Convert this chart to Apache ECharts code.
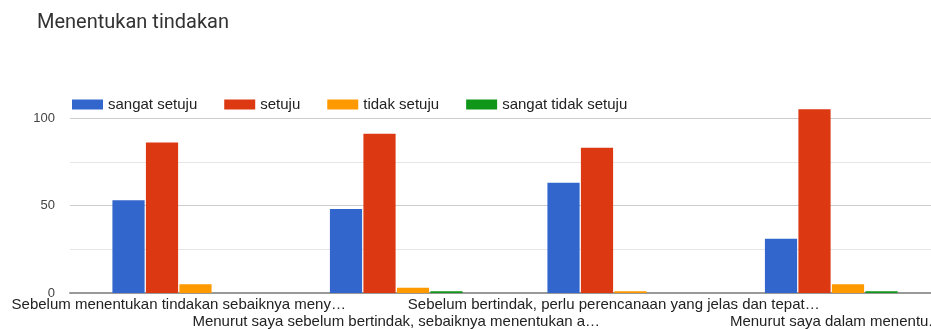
<!DOCTYPE html>
<html>
<head>
<meta charset="utf-8">
<script src="https://cdn.jsdelivr.net/npm/echarts@6/dist/echarts.min.js"></script>
<style>
  html, body { margin: 0; padding: 0; background: #fff; }
  #chart { width: 931px; height: 329px; }
</style>
</head>
<body>
<div id="chart"></div>
<script>
// Survey statements (as shown, truncated)
const categories = [
  'Sebelum menentukan tindakan sebaiknya meny…',
  'Menurut saya sebelum bertindak, sebaiknya menentukan a…',
  'Sebelum bertindak, perlu perencanaan yang jelas dan tepat…',
  'Menurut saya dalam menentu.'
];

// Response counts per answer option
const sangatSetuju = [53, 48, 63, 31];
const setuju = [86, 91, 83, 105];
const tidakSetuju = [5, 3, 1, 5];
const sangatTidakSetuju = [0, 1, 0, 1];

const seriesNames = ['sangat setuju', 'setuju', 'tidak setuju', 'sangat tidak setuju'];
const seriesValues = [sangatSetuju, setuju, tidakSetuju, sangatTidakSetuju];
const colors = ['#3366cc', '#dc3912', '#ff9900', '#109618'];

const yTicks = [0, 50, 100];

const chart = echarts.init(document.getElementById('chart'), null, { renderer: 'canvas' });

chart.setOption({
  animation: false,
  color: colors,
  title: {
    text: 'Menentukan tindakan',
    left: 32,
    top: 8,
    textStyle: { fontFamily: 'Roboto', fontSize: 20, fontWeight: 'normal', color: '#333' }
  },
  legend: {
    left: 67,
    top: 92,
    icon: 'rect',
    itemWidth: 31,
    itemHeight: 10,
    itemGap: 27,
    textStyle: { fontFamily: 'Liberation Sans', fontSize: 15, color: '#222' },
    data: seriesNames
  },
  grid: {
    left: 70,
    right: -9,
    top: 118,
    bottom: 36,
    containLabel: false,
    outerBoundsMode: 'none'
  },
  xAxis: {
    type: 'category',
    data: categories,
    axisTick: { show: false },
    axisLine: { lineStyle: { color: '#999', width: 2 } },
    axisLabel: {
      interval: 0,
      margin: 3,
      fontFamily: 'Liberation Sans',
      fontSize: 15,
      lineHeight: 17,
      color: '#222',
      formatter: (v, i) => (i % 2 === 1 ? '\n' + v : v)
    }
  },
  yAxis: {
    type: 'value',
    min: 0,
    max: 100,
    interval: 25,
    axisLine: { show: false },
    axisTick: { show: false },
    axisLabel: {
      margin: 15,
      fontFamily: 'Liberation Sans',
      fontSize: 13,
      color: '#444',
      formatter: v => (yTicks.includes(v) ? String(v) : '')
    },
    splitLine: { lineStyle: { color: ['#cccccc', '#e6e6e6'] } }
  },
  series: seriesValues.map((vals, i) => ({
    name: seriesNames[i],
    type: 'bar',
    data: vals,
    clip: false,
    barGap: '4%',
    barCategoryGap: '39%'
  }))
});
</script>
</body>
</html>
